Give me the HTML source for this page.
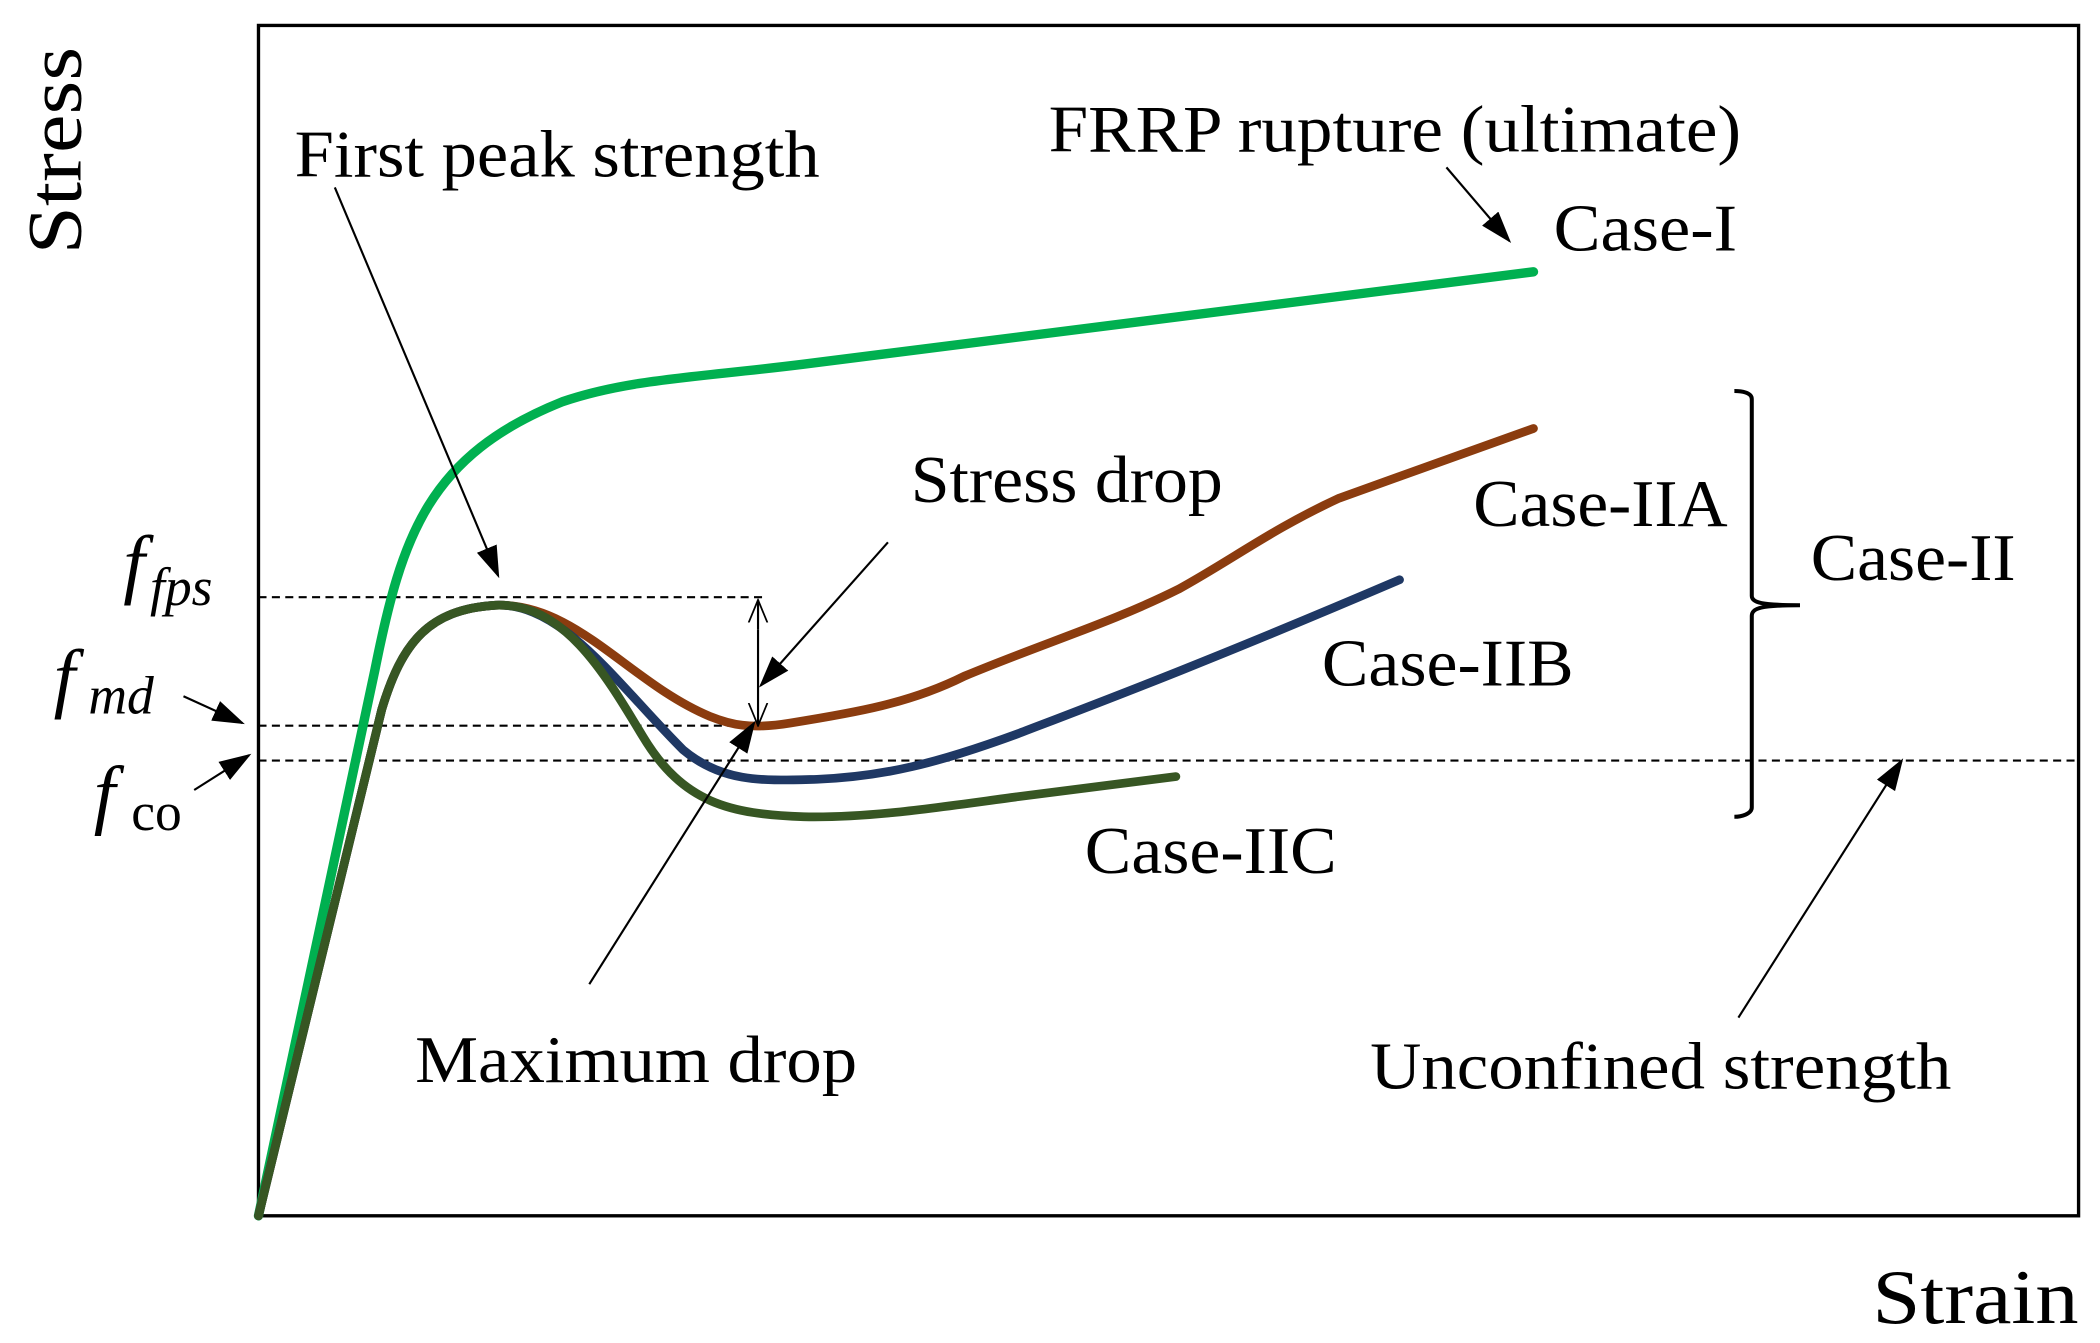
<!DOCTYPE html>
<html><head><style>html,body{margin:0;padding:0;background:#fff}svg{display:block}</style></head>
<body>
<svg width="2100" height="1343" viewBox="0 0 1568 1003" preserveAspectRatio="none" xmlns="http://www.w3.org/2000/svg" font-family="Liberation Serif, serif">
<defs>
<marker id="ah" markerWidth="24" markerHeight="18" refX="22" refY="9" orient="auto" markerUnits="userSpaceOnUse" viewBox="0 0 24 18"><path d="M0,1 L24,9 L0,17 Z" fill="#000"/></marker>
<marker id="o" markerWidth="18" markerHeight="16" refX="17" refY="8" orient="auto" markerUnits="userSpaceOnUse" viewBox="0 0 18 16"><path d="M0,1 L17,8 L0,15" fill="none" stroke="#000" stroke-width="1.3"/></marker>
</defs>
<rect x="193" y="19" width="1359" height="889" fill="none" stroke="#000" stroke-width="2.5"/>
<g stroke="#000" stroke-width="1.6" stroke-dasharray="6,4" fill="none">
<line x1="193" y1="446" x2="570" y2="446"/>
<line x1="193" y1="542" x2="566" y2="542"/>
<line x1="193" y1="568" x2="1552" y2="568"/>
</g>
<g fill="none" stroke-linecap="round" stroke-width="6.5">
<path d="M193,908 L280,500 C300,400 320,340 420,300 C470,283 520,282 600,272 L1145,203" stroke="#00b050" stroke-width="7"/>
<path d="M193,908 L285,530 C300,480 320,455 370,452 C430,450 470,510 530,535 C545,541 560,545 590,540 C640,532 680,525 720,505 C780,480 830,465 880,440 C920,418 950,395 1000,372 L1145,320" stroke="#8b3c0f"/>
<path d="M193,908 L285,530 C300,480 320,455 370,452 C420,450 460,510 510,560 C540,585 570,583 610,582 C660,580 700,570 760,548 C820,525 900,495 1045,433" stroke="#1f3864"/>
<path d="M193,908 L285,530 C300,480 320,455 370,452 C420,450 450,500 480,550 C510,600 545,608 600,610 C650,611 700,603 760,595 L878,580" stroke="#375623"/>
</g>
<path d="M1295,292 C1300,292 1308,293 1308,298 L1308,445 C1308,450 1315,452 1344,452 C1315,452 1308,454 1308,460 L1308,603 C1308,608 1300,610 1295,610" fill="none" stroke="#000" stroke-width="3"/>
<g stroke="#000" stroke-width="1.6" fill="none">
<line x1="250" y1="140" x2="372" y2="430" marker-end="url(#ah)"/>
<line x1="1080" y1="125" x2="1127" y2="180" marker-end="url(#ah)"/>
<line x1="663" y1="405" x2="568" y2="512" marker-end="url(#ah)"/>
<line x1="440" y1="735" x2="563" y2="540" marker-end="url(#ah)"/>
<line x1="1298" y1="760" x2="1420" y2="568" marker-end="url(#ah)"/>
<line x1="137" y1="520" x2="181" y2="540" marker-end="url(#ah)"/>
<line x1="145" y1="590" x2="186" y2="564" marker-end="url(#ah)"/>
<line x1="566" y1="470" x2="566" y2="448" marker-end="url(#o)"/>
<line x1="566" y1="470" x2="566" y2="542" marker-end="url(#o)"/>
</g>
<g font-size="50" fill="#000" lengthAdjust="spacingAndGlyphs">
<text x="220" y="132" textLength="392" lengthAdjust="spacingAndGlyphs">First peak strength</text>
<text x="783" y="113" textLength="517" lengthAdjust="spacingAndGlyphs">FRRP rupture (ultimate)</text>
<text x="1160" y="187" textLength="137" lengthAdjust="spacingAndGlyphs">Case-I</text>
<text x="680" y="375" textLength="233" lengthAdjust="spacingAndGlyphs">Stress drop</text>
<text x="1100" y="393" textLength="190" lengthAdjust="spacingAndGlyphs">Case-IIA</text>
<text x="1352" y="433" textLength="153" lengthAdjust="spacingAndGlyphs">Case-II</text>
<text x="987" y="512" textLength="188" lengthAdjust="spacingAndGlyphs">Case-IIB</text>
<text x="810" y="652" textLength="188" lengthAdjust="spacingAndGlyphs">Case-IIC</text>
<text x="310" y="808" textLength="330" lengthAdjust="spacingAndGlyphs">Maximum drop</text>
<text x="1023" y="813" textLength="434" lengthAdjust="spacingAndGlyphs">Unconfined strength</text>
<text x="1398" y="988" font-size="58" textLength="154" lengthAdjust="spacingAndGlyphs">Strain</text>
<text transform="translate(60,190) rotate(-90)" font-size="58" textLength="155" lengthAdjust="spacingAndGlyphs">Stress</text>
<text x="92" y="440" font-size="58" font-style="italic">f</text><text x="112" y="452" font-size="40" font-style="italic">fps</text>
<text x="40" y="525" font-size="58" font-style="italic">f</text><text x="66" y="533" font-size="40" font-style="italic">md</text>
<text x="70" y="612" font-size="58" font-style="italic">f</text><text x="98" y="620" font-size="40">co</text>
</g>
</svg>
</body></html>
